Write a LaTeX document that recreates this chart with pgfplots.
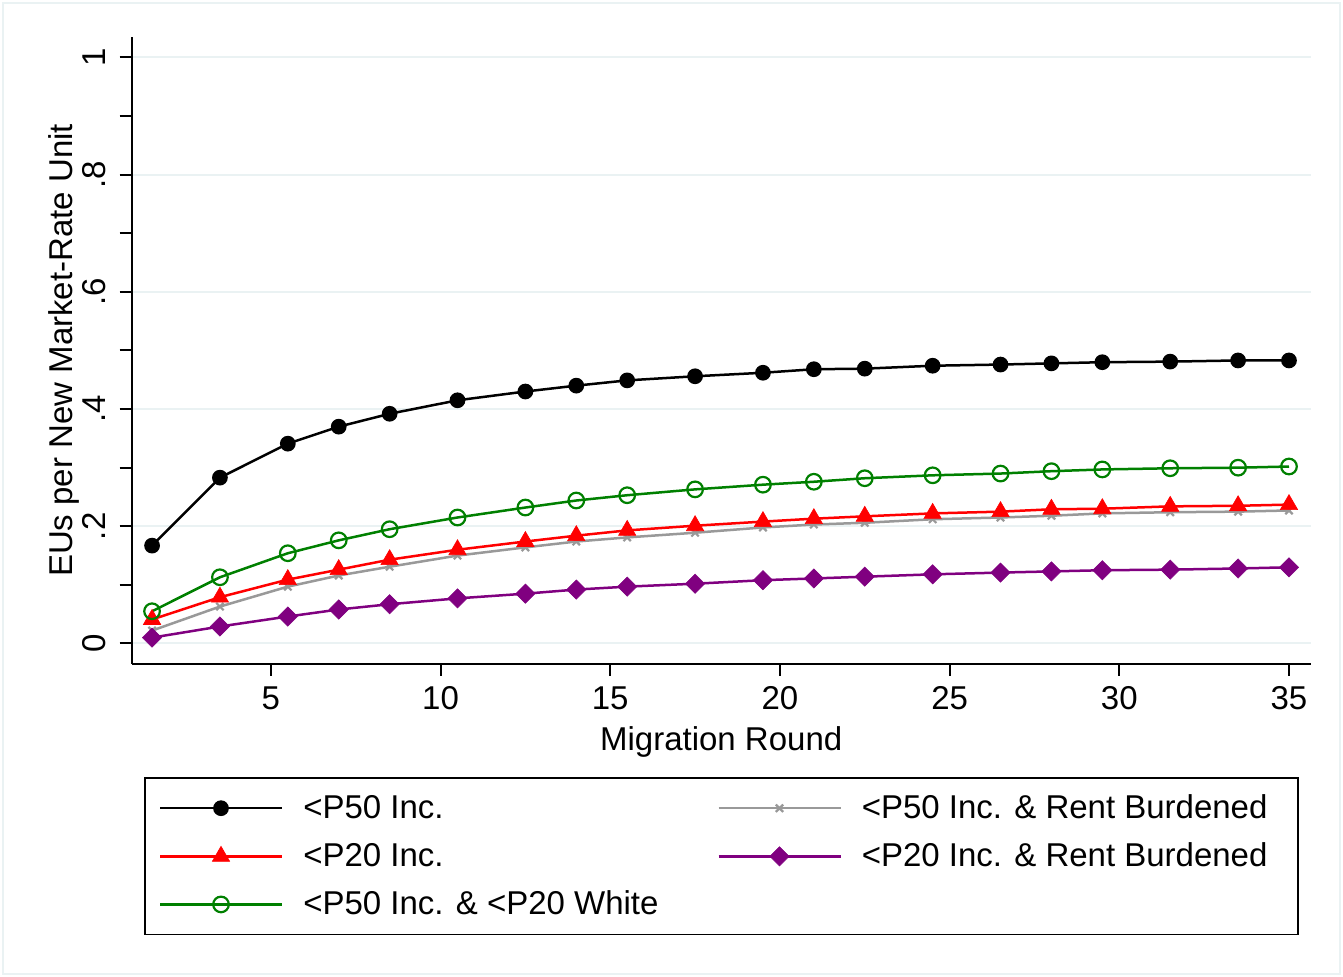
\documentclass[border=0pt]{standalone}
\usepackage{fontspec}
\setmainfont{Liberation Sans}
\usepackage{pgfplots}
\pgfplotsset{compat=1.18}
\definecolor{gridcol}{RGB}{234,242,243}
\definecolor{framecol}{RGB}{234,242,243}
\definecolor{sgreen}{RGB}{0,128,0}
\definecolor{sgray}{RGB}{153,153,153}
\definecolor{spurple}{RGB}{128,0,128}
\begin{document}
\begin{tikzpicture}
\useasboundingbox (-65.85pt,-156.5pt) rectangle (605.65pt,332pt);
\fill[white] (-65.85pt,-156.5pt) rectangle (605.65pt,332pt);
\draw[framecol, line width=1pt] (-64.35pt,-155pt) rectangle (604.15pt,330.5pt);
\begin{axis}[
  at={(0pt,0pt)}, anchor=south west,
  scale only axis, width=589.5pt, height=313.5pt,
  font=\fontsize{16.5}{19.8}\selectfont,
  /pgf/number format/assume math mode=true,
  xmin=0.90, xmax=35.64, ymin=-0.035, ymax=1.035,
  axis lines*=left,
  axis line style={line width=1pt},
  every tick/.style={black, line width=1pt},
  tick align=outside, major tick length=6pt, minor tick length=6pt,
  xtick={5,10,15,20,25,30,35},
  ytick={0,0.2,0.4,0.6,0.8,1},
  yticklabels={0,.2,.4,.6,.8,1},
  minor ytick={0.1,0.3,0.5,0.7,0.9},
  ymajorgrids, major grid style={gridcol, line width=1pt},
  xticklabel style={anchor=base, yshift=-17pt, inner sep=0pt},
  yticklabel style={xshift=-7.1pt, rotate=90, anchor=base, inner sep=0pt},
  xlabel={Migration Round},
  ylabel={EUs per New Market-Rate Unit},
  xlabel style={at={(axis description cs:0.5,-0.1372)}, anchor=base, inner sep=0pt},
  ylabel style={at={(axis description cs:-0.0506,0.5)}, anchor=base, inner sep=0pt},
  legend columns=2,
  legend cell align=left,
  legend style={at={(axis description cs:0.01043,-0.17863)}, anchor=north west,
    draw=black, line width=0.75pt, inner xsep=7pt, inner ysep=6.3pt,
    yshift=-0.7pt,
    nodes={inner xsep=0pt},
    column sep=10pt, row sep=6.6pt,
    font=\fontsize{16.5}{19.8}\selectfont},
  legend image code/.code={\draw[mark repeat=2,mark phase=2] plot coordinates {(0pt,0pt)(30.5pt,0pt)(61pt,0pt)};},
]
% <P50 Inc.
\addplot[black, line width=1.25pt, mark=*, mark size=3.3pt] coordinates {
(1.5,0.167)(3.5,0.283)(5.5,0.341)(7,0.370)(8.5,0.392)(10.5,0.415)(12.5,0.430)(14,0.440)(15.5,0.449)(17.5,0.456)
(19.5,0.462)(21,0.468)(22.5,0.469)(24.5,0.474)(26.5,0.476)(28,0.478)(29.5,0.480)(31.5,0.481)(33.5,0.483)(35,0.483)};
\addlegendentry{\makebox[197pt][l]{<P50 Inc.}}
% <P50 Inc. & Rent Burdened
\addplot[sgray, line width=1.25pt, mark=x, mark size=2.6pt, mark options={line width=1.1pt}] coordinates {
(1.5,0.022)(3.5,0.063)(5.5,0.097)(7,0.116)(8.5,0.131)(10.5,0.150)(12.5,0.164)(14,0.174)(15.5,0.181)(17.5,0.189)
(19.5,0.198)(21,0.203)(22.5,0.206)(24.5,0.212)(26.5,0.215)(28,0.218)(29.5,0.222)(31.5,0.224)(33.5,0.225)(35,0.227)};
\addlegendentry{\makebox[211pt][l]{<P50 Inc. \& Rent Burdened}}
% <P20 Inc.
\addplot[red, line width=1.25pt, mark=triangle*, mark size=5pt, mark options={line width=0.3pt}] coordinates {
(1.5,0.041)(3.5,0.079)(5.5,0.109)(7,0.126)(8.5,0.143)(10.5,0.160)(12.5,0.174)(14,0.184)(15.5,0.193)(17.5,0.201)
(19.5,0.208)(21,0.213)(22.5,0.217)(24.5,0.222)(26.5,0.225)(28,0.229)(29.5,0.230)(31.5,0.234)(33.5,0.235)(35,0.237)};
\addlegendentry{\makebox[197pt][l]{<P20 Inc.}}
% <P20 Inc. & Rent Burdened
\addplot[spurple, line width=1.25pt, mark=square*, mark size=3.4pt, mark options={rotate=45, line width=0.3pt}] coordinates {
(1.5,0.010)(3.5,0.029)(5.5,0.046)(7,0.058)(8.5,0.067)(10.5,0.077)(12.5,0.085)(14,0.092)(15.5,0.097)(17.5,0.102)
(19.5,0.108)(21,0.111)(22.5,0.114)(24.5,0.118)(26.5,0.121)(28,0.123)(29.5,0.125)(31.5,0.126)(33.5,0.128)(35,0.130)};
\addlegendentry{\makebox[211pt][l]{<P20 Inc. \& Rent Burdened}}
% <P50 Inc. & <P20 White
\addplot[sgreen, line width=1.25pt, mark=o, mark size=3.9pt, mark options={line width=1.1pt, fill=white}] coordinates {
(1.5,0.055)(3.5,0.113)(5.5,0.154)(7,0.176)(8.5,0.195)(10.5,0.215)(12.5,0.232)(14,0.244)(15.5,0.253)(17.5,0.263)
(19.5,0.271)(21,0.276)(22.5,0.282)(24.5,0.287)(26.5,0.290)(28,0.294)(29.5,0.297)(31.5,0.299)(33.5,0.300)(35,0.302)};
\addlegendentry{\makebox[197pt][l]{<P50 Inc. \& <P20 White}}
\end{axis}
\end{tikzpicture}
\end{document}
